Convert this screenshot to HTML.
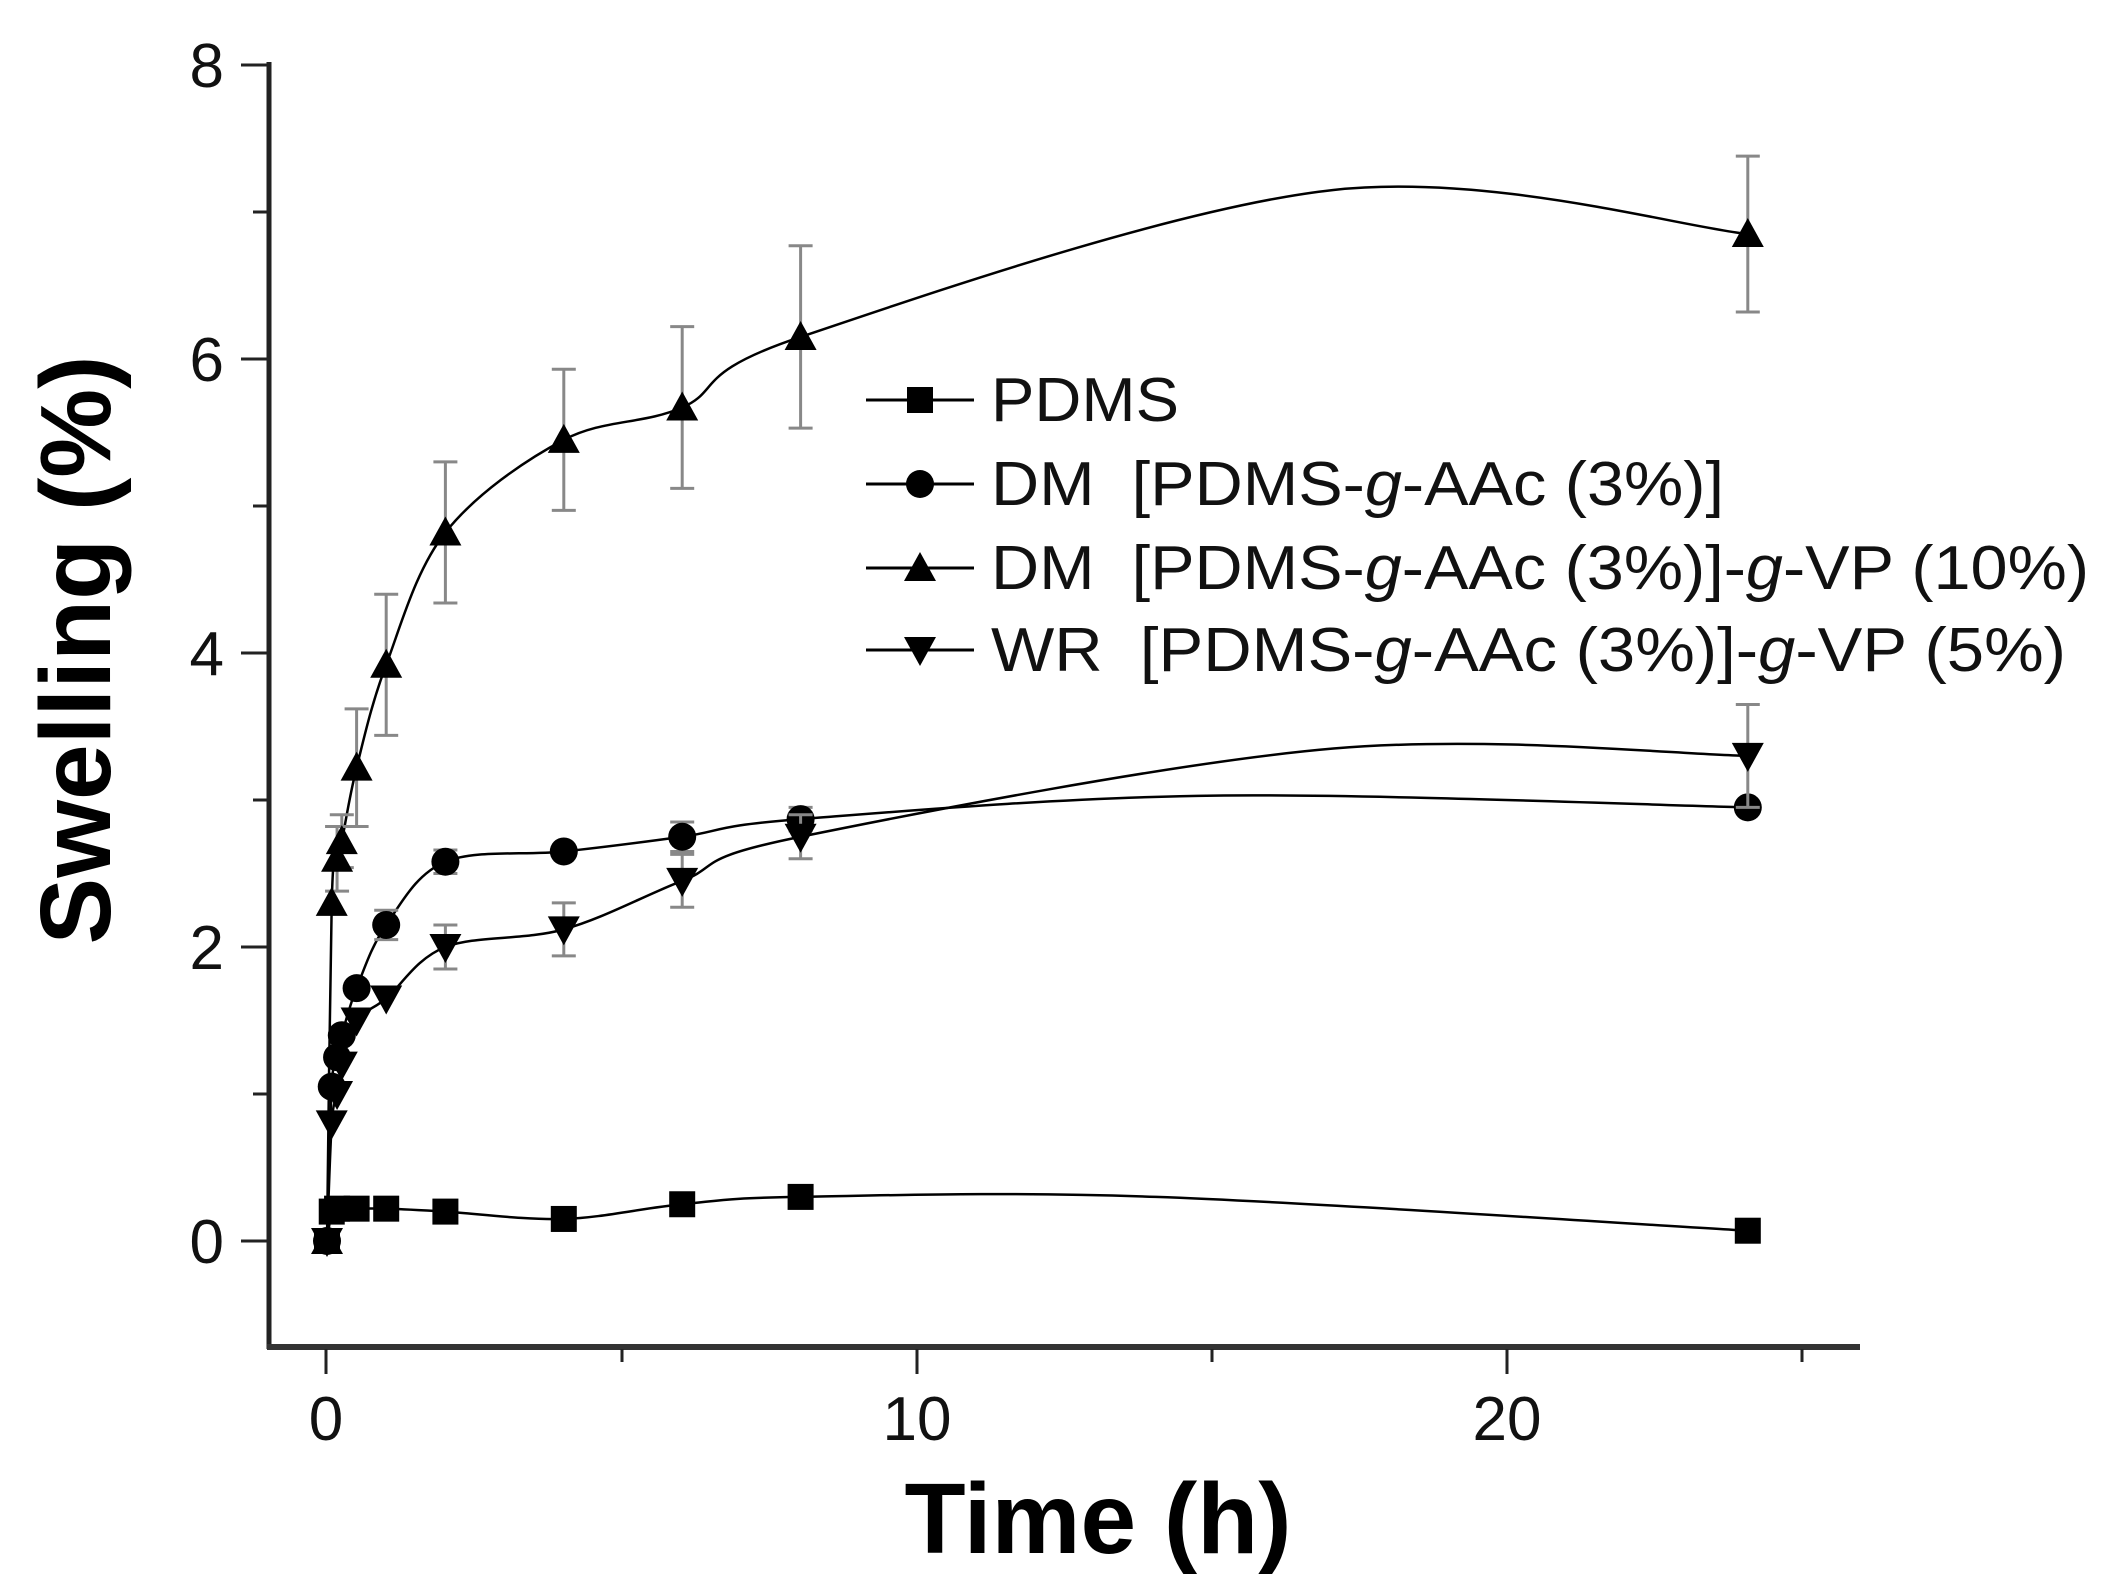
<!DOCTYPE html>
<html><head><meta charset="utf-8"><style>
html,body{margin:0;padding:0;background:#fff;}
svg{display:block;font-family:"Liberation Sans",Arial,sans-serif;}
</style></head><body>
<svg id="s" width="2109" height="1589" viewBox="0 0 2109 1589" xmlns="http://www.w3.org/2000/svg">
<rect width="2109" height="1589" fill="#fff"/>
<line x1="269" y1="62" x2="269" y2="1349" stroke="#222" stroke-width="5"/>
<line x1="267" y1="1347" x2="1860" y2="1347" stroke="#333" stroke-width="6"/>
<g stroke="#222" stroke-width="3">
<line x1="241" y1="65" x2="269" y2="65"/><line x1="253" y1="212" x2="269" y2="212"/>
<line x1="241" y1="359" x2="269" y2="359"/><line x1="253" y1="506" x2="269" y2="506"/>
<line x1="241" y1="653" x2="269" y2="653"/><line x1="253" y1="800" x2="269" y2="800"/>
<line x1="241" y1="947" x2="269" y2="947"/><line x1="253" y1="1094" x2="269" y2="1094"/>
<line x1="241" y1="1241" x2="269" y2="1241"/>
<line x1="326" y1="1349" x2="326" y2="1374"/><line x1="622" y1="1349" x2="622" y2="1362"/>
<line x1="917" y1="1349" x2="917" y2="1374"/><line x1="1212" y1="1349" x2="1212" y2="1362"/>
<line x1="1507" y1="1349" x2="1507" y2="1374"/><line x1="1802" y1="1349" x2="1802" y2="1362"/>
</g>
<g font-size="62" fill="#111" text-anchor="end">
<text x="224" y="87">8</text><text x="224" y="381">6</text><text x="224" y="675">4</text>
<text x="224" y="969">2</text><text x="224" y="1263">0</text>
</g>
<g font-size="62" fill="#111" text-anchor="middle">
<text x="326" y="1440">0</text><text x="917" y="1440">10</text><text x="1507" y="1440">20</text>
</g>
<text x="1098" y="1553" font-size="100" font-weight="bold" text-anchor="middle" fill="#000">Time (h)</text>
<text transform="translate(110,650) rotate(-90)" font-size="100" font-weight="bold" text-anchor="middle" fill="#000">Swelling (%)</text>
<g id="data"></g>
<g font-size="62" fill="#111">
<text x="991" y="421" textLength="188" lengthAdjust="spacingAndGlyphs">PDMS</text>
<text x="991" y="505" textLength="733" lengthAdjust="spacingAndGlyphs">DM&#160;&#160;[PDMS-<tspan font-style="italic">g</tspan>-AAc (3%)]</text>
<text x="991" y="589" textLength="1098" lengthAdjust="spacingAndGlyphs">DM&#160;&#160;[PDMS-<tspan font-style="italic">g</tspan>-AAc (3%)]-<tspan font-style="italic">g</tspan>-VP (10%)</text>
<text x="991" y="671" textLength="1075" lengthAdjust="spacingAndGlyphs">WR&#160;&#160;[PDMS-<tspan font-style="italic">g</tspan>-AAc (3%)]-<tspan font-style="italic">g</tspan>-VP (5%)</text>
</g>
<g id="leg"></g>
</svg>
<script>
var NS="http://www.w3.org/2000/svg";
function X(t){return 327+59.2*t;}function Y(v){return 1241-147*v;}
function el(n,a,p){var e=document.createElementNS(NS,n);for(var k in a)e.setAttribute(k,a[k]);(p||document.getElementById('data')).appendChild(e);return e;}
function marker(type,x,y,p){var r=13;
 if(type=='s')el('rect',{x:x-r,y:y-r,width:2*r,height:2*r,fill:'#000'},p);
 else if(type=='c')el('circle',{cx:x,cy:y,r:r+1,fill:'#000'},p);
 else if(type=='t')el('polygon',{points:(x-r-3)+','+(y+r)+' '+(x+r+3)+','+(y+r)+' '+x+','+(y-r-3),fill:'#000'},p);
 else el('polygon',{points:(x-r-3)+','+(y-r)+' '+(x+r+3)+','+(y-r)+' '+x+','+(y+r+3),fill:'#000'},p);}
function curve(pts){var d='M'+pts[0][0]+','+pts[0][1];
 for(var i=0;i<pts.length-1;i++){var p0=pts[Math.max(i-1,0)],p1=pts[i],p2=pts[i+1],p3=pts[Math.min(i+2,pts.length-1)];
  d+=' C'+(p1[0]+(p2[0]-p0[0])/6)+','+(p1[1]+(p2[1]-p0[1])/6)+' '+(p2[0]-(p3[0]-p1[0])/6)+','+(p2[1]-(p3[1]-p1[1])/6)+' '+p2[0]+','+p2[1];}
 el('path',{d:d,fill:'none',stroke:'#000','stroke-width':2.5});}
var S=[
 {m:'s',d:[[0,0],[0.08,0.2],[0.17,0.22],[0.5,0.22],[1,0.22],[2,0.2],[4,0.15],[6,0.25],[8,0.3],[14,0.3],[24,0.07]],e:{8:0.06}},
 {m:'c',d:[[0,0],[0.08,1.05],[0.17,1.25],[0.25,1.4],[0.5,1.72],[1,2.15],[2,2.58],[4,2.65],[6,2.75],[8,2.87],[15,3.03],[24,2.95]],e:{1:0.1,2:0.08,6:0.1,8:0.08}},
 {m:'t',d:[[0,0],[0.08,2.3],[0.17,2.6],[0.25,2.72],[0.5,3.22],[1,3.92],[2,4.82],[4,5.45],[6,5.67],[8,6.15],[17,7.15],[24,6.85]],e:{0.17:0.22,0.25:0.18,0.5:0.4,1:0.48,2:0.48,4:0.48,6:0.55,8:0.62,24:0.53}},
 {m:'v',d:[[0,0],[0.08,0.8],[0.17,1.0],[0.25,1.2],[0.5,1.5],[1,1.65],[2,2.0],[4,2.12],[6,2.45],[8,2.75],[17,3.35],[24,3.3]],e:{2:0.15,4:0.18,6:0.18,8:0.15,24:0.35}}
];
S.forEach(function(s){
 var pts=s.d.map(function(p){return [X(p[0]),Y(p[1])];});curve(pts);
 s.d.forEach(function(p){var e=s.e[p[0]];if(e){var x=X(p[0]);
  el('line',{x1:x,y1:Y(p[1]-e),x2:x,y2:Y(p[1]+e),stroke:'#888','stroke-width':3});
  el('line',{x1:x-12,y1:Y(p[1]-e),x2:x+12,y2:Y(p[1]-e),stroke:'#888','stroke-width':3});
  el('line',{x1:x-12,y1:Y(p[1]+e),x2:x+12,y2:Y(p[1]+e),stroke:'#888','stroke-width':3});}});
 s.d.forEach(function(p,i){if((s.m=='s'&&p[0]==14)||p[0]==15||p[0]==17)return;marker(s.m,X(p[0]),Y(p[1]));});
});
var lg=document.getElementById('leg');
[['s',400],['c',484],['t',568],['v',650]].forEach(function(a){
 el('line',{x1:866,y1:a[1],x2:974,y2:a[1],stroke:'#000','stroke-width':3},lg);marker(a[0],920,a[1],lg);});
</script>
</body></html>
